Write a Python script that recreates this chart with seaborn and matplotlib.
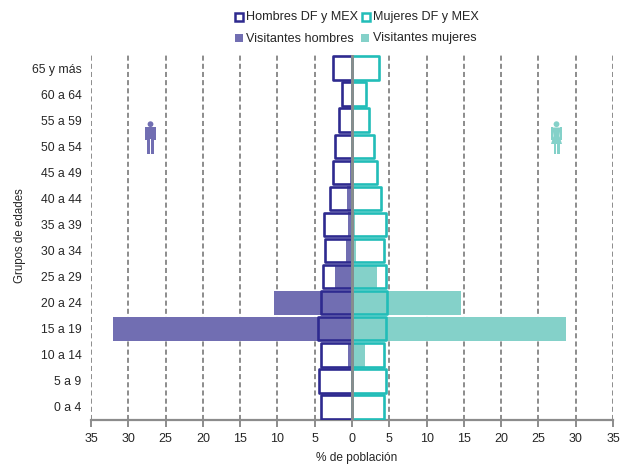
import matplotlib
matplotlib.use("Agg")
import matplotlib.pyplot as plt
from matplotlib.patches import Rectangle, Circle, Polygon
import pandas as pd
import seaborn as sns

grupos = ["65 y más", "60 a 64", "55 a 59", "50 a 54", "45 a 49", "40 a 44", "35 a 39",
          "30 a 34", "25 a 29", "20 a 24", "15 a 19", "10 a 14", "5 a 9", "0 a 4"]
hombres_df = [-2.5, -1.3, -1.7, -2.3, -2.6, -2.9, -3.8, -3.6, -3.9, -4.2, -4.5, -4.2, -4.4, -4.1]
mujeres_df = [3.6, 1.9, 2.3, 3.0, 3.4, 3.9, 4.5, 4.3, 4.5, 4.7, 4.6, 4.3, 4.6, 4.3]
visit_h = [-0.1, -0.1, -0.1, -0.2, -0.3, -0.7, -0.5, -0.8, -2.3, -10.4, -32.0, -0.6, -0.1, -0.1]
visit_m = [0.1, 0.1, 0.1, 0.2, 0.2, 0.3, 0.4, 0.5, 3.3, 14.6, 28.7, 1.7, 0.1, 0.1]
xticks = [-35, -30, -25, -20, -15, -10, -5, 0, 5, 10, 15, 20, 25, 30, 35]

C_H, C_M = "#2e2a8f", "#22bdb8"
F_H, F_M = "#716eb2", "#84d1c9"
GRIS = "#8c8c8c"
TXT = "#262626"

sns.set_theme(style="white")
plt.rcParams["font.family"] = ["Liberation Sans", "DejaVu Sans"]
fig = plt.figure(figsize=(6.22, 4.65), dpi=100)
ax = fig.add_axes([91 / 622, 1 - 420 / 465, (613 - 91) / 622, (420 - 55) / 465])

df = pd.DataFrame({"grupo": grupos, "hdf": hombres_df, "mdf": mujeres_df, "vh": visit_h, "vm": visit_m})
sns.barplot(data=df, y="grupo", x="vh", color=F_H, saturation=1, width=0.92, ax=ax, zorder=2, linewidth=0)
sns.barplot(data=df, y="grupo", x="vm", color=F_M, saturation=1, width=0.92, ax=ax, zorder=2, linewidth=0)
sns.barplot(data=df, y="grupo", x="hdf", fill=False, color=C_H, saturation=1, width=0.9, ax=ax, zorder=3, linewidth=1.9)
sns.barplot(data=df, y="grupo", x="mdf", fill=False, color=C_M, saturation=1, width=0.9, ax=ax, zorder=3, linewidth=1.9)
for b in ax.patches:
    b.set_joinstyle("round")

ax.set_xlim(-35, 35)
ax.set_ylim(13.5, -0.5)
ax.set_xticks(xticks)
ax.set_xticklabels([str(abs(v)) for v in xticks], fontsize=9, color=TXT)
ax.tick_params(axis="x", length=5, width=1.4, color=GRIS, pad=4, bottom=True)
ax.tick_params(axis="y", length=0, labelsize=8.8, pad=7, labelcolor=TXT)
ax.set_xlabel("% de población", fontsize=8.6, color=TXT)
ax.set_ylabel("Grupos de edades", fontsize=8.3, color=TXT)
ax.yaxis.set_label_coords(-0.124, 0.505)
ax.xaxis.set_label_coords(0.508, -0.087)
ax.xaxis.grid(True, linestyle=(0, (2.6, 1.6)), linewidth=1.4, color=GRIS, zorder=1)
ax.set_axisbelow(True)
ax.axvline(0, color=GRIS, linewidth=2, zorder=5)
for s in ["top", "left", "right"]:
    ax.spines[s].set_visible(False)
ax.spines["bottom"].set_color(GRIS)
ax.spines["bottom"].set_linewidth(1.6)


def persona(cx_px, y_px, color, mujer):
    """Small pictogram placed in a tiny overlay axes (pixel box on the figure)."""
    w, h = 14, 34
    a = fig.add_axes([(cx_px - w / 2) / 622, 1 - (y_px + h / 2) / 465, w / 622, h / 465])
    a.set_xlim(0, 14)
    a.set_ylim(34, 0)
    a.axis("off")
    a.patch.set_alpha(0)
    a.add_patch(Circle((7, 3.2), 2.9, color=color, lw=0))
    a.add_patch(Rectangle((1.2, 6.5), 2.6, 13, color=color, lw=0))
    a.add_patch(Rectangle((10.2, 6.5), 2.6, 13, color=color, lw=0))
    if mujer:
        a.add_patch(Polygon([(3, 6.5), (11, 6.5), (10, 15), (12.5, 23), (1.5, 23), (4, 15)], color=color, lw=0))
        a.add_patch(Rectangle((4.0, 23), 2.6, 10, color=color, lw=0))
        a.add_patch(Rectangle((7.4, 23), 2.6, 10, color=color, lw=0))
    else:
        a.add_patch(Rectangle((3, 6.5), 8, 12, color=color, lw=0))
        a.add_patch(Rectangle((3.8, 18), 2.8, 15, color=color, lw=0))
        a.add_patch(Rectangle((7.4, 18), 2.8, 15, color=color, lw=0))


persona(150.5, 138, F_H, False)
persona(556.5, 138, F_M, True)

fs = 9.1
def caja(x, y, ec, fc, lw):
    fig.add_artist(Rectangle((x / 622, 1 - (y + 4) / 465), 8 / 622, 8 / 465, transform=fig.transFigure,
                             facecolor=fc, edgecolor=ec, linewidth=lw))
caja(234.5, 17, C_H, "white", 1.8)
fig.text(246 / 622, 1 - 17 / 465, "Hombres DF y MEX", fontsize=fs, va="center", color=TXT)
caja(362, 17, C_M, "white", 1.8)
fig.text(373 / 622, 1 - 17 / 465, "Mujeres DF y MEX", fontsize=fs, va="center", color=TXT)
caja(235, 38, F_H, F_H, 0)
fig.text(246 / 622, 1 - 38.5 / 465, "Visitantes hombres", fontsize=fs, va="center", color=TXT)
caja(361, 38, F_M, F_M, 0)
fig.text(373 / 622, 1 - 38.5 / 465, "Visitantes mujeres", fontsize=fs, va="center", color=TXT)

fig.savefig("out.png", dpi=100, facecolor="white")
